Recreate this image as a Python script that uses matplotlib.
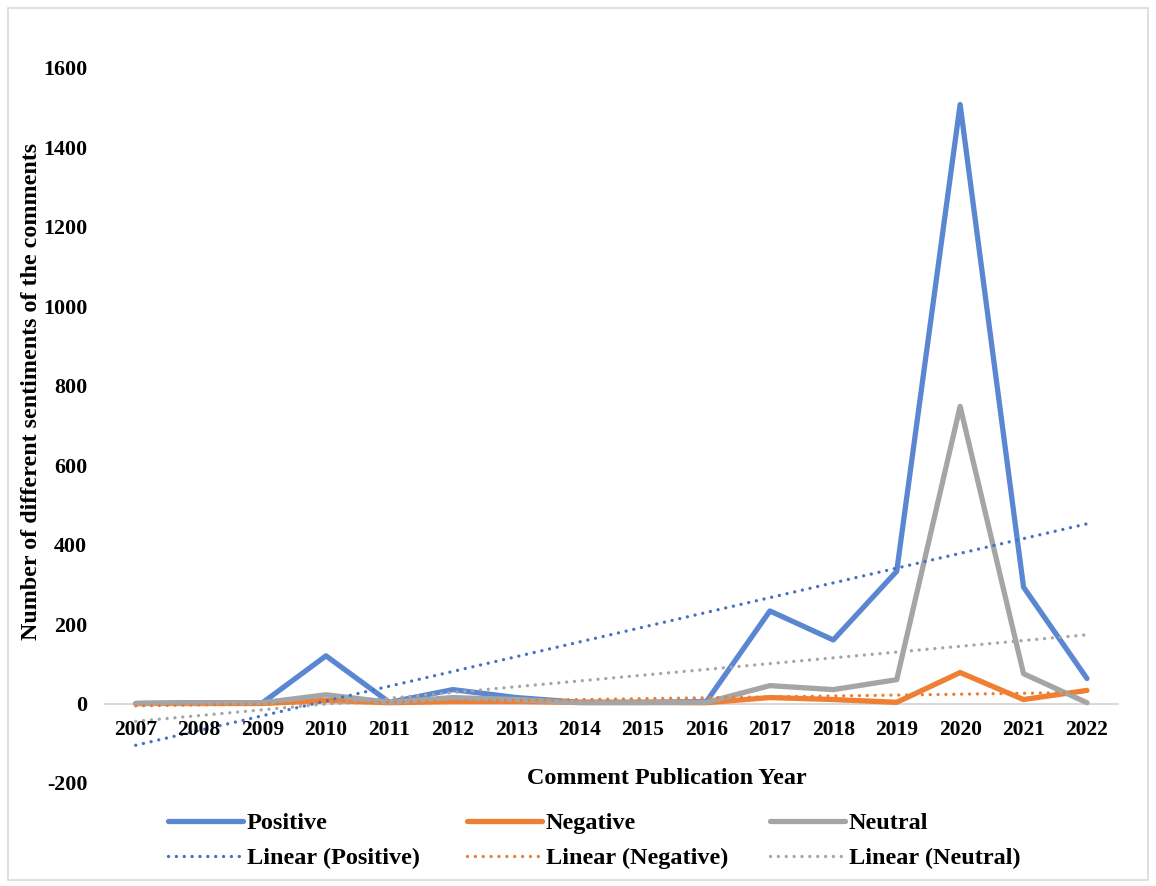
import numpy as np
import matplotlib
matplotlib.use("Agg")
import matplotlib.pyplot as plt
from matplotlib.patches import Rectangle

plt.rcParams['font.family'] = ['Liberation Serif', 'DejaVu Serif']
plt.rcParams['font.weight'] = 'bold'
plt.rcParams['axes.unicode_minus'] = False

years = ['2007', '2008', '2009', '2010', '2011', '2012', '2013', '2014',
         '2015', '2016', '2017', '2018', '2019', '2020', '2021', '2022']
positive = [0, 2, 2, 120, 3, 35, 15, 3, 3, 5, 233, 160, 333, 1508, 293, 63]
negative = [0, 0, 0, 8, 2, 5, 5, 3, 3, 2, 15, 10, 3, 78, 10, 33]
neutral = [0, 2, 2, 22, 3, 15, 10, 2, 2, 3, 45, 35, 60, 748, 75, 2]

series_names = ['Positive', 'Negative', 'Neutral']
line_colors = ['#5B87D2', '#EE7F33', '#A5A5A5']
trend_colors = ['#4472C4', '#ED7D31', '#A5A5A5']

fig = plt.figure(figsize=(11.56, 8.86), dpi=100)
ax = fig.add_axes([0.090, 0.1163, 0.8777, 0.807])

x = np.arange(len(years))
ax.axhline(0, color='#D9D9D9', lw=1.5, zorder=1)

handles = []
trend_handles = []
for name, vals, c in zip(series_names, [positive, negative, neutral], line_colors):
    h, = ax.plot(x, vals, color=c, lw=3.8, solid_joinstyle='round',
                 solid_capstyle='round', zorder=2, label=name)
    handles.append(h)
for name, vals, c in zip(series_names, [positive, negative, neutral], trend_colors):
    k, b = np.polyfit(x, vals, 1)
    t, = ax.plot(x, k * x + b, color=c, lw=2.4, linestyle=(0, (0.01, 2.35)),
                 dash_capstyle='round', zorder=3, label='Linear (%s)' % name)
    trend_handles.append(t)

ax.set_xlim(-0.5, len(years) - 0.5)
ax.set_ylim(-200, 1600)
ax.set_yticks(np.arange(-200, 1601, 200))
ax.tick_params(axis='y', length=0, labelsize=15.8, pad=12)
ax.set_xticks([])
for s in ax.spines.values():
    s.set_visible(False)

for i, yr in enumerate(years):
    ax.annotate(yr, (i, 0), xytext=(0, -26), textcoords='offset pixels',
                ha='center', va='center', fontsize=15.5, fontweight='bold')

fig.text(0.027, 1 - 391 / 886, 'Number of different sentiments of the comments',
         rotation=90, ha='center', va='center', fontsize=17.3, fontweight='bold')
fig.text(667 / 1156, 1 - 778 / 886, 'Comment Publication Year',
         ha='center', va='center', fontsize=17.4, fontweight='bold')

# one small two-row legend per series column
col_x = [168, 467, 770]
for cx, h, t in zip(col_x, handles, trend_handles):
    fig.legend([h, t], [h.get_label(), t.get_label()], loc='upper left',
               bbox_to_anchor=(cx / 1156, 1 - 812 / 886), frameon=False,
               fontsize=17.5, handlelength=3.1, handletextpad=0.15,
               labelspacing=0.55, borderaxespad=0, borderpad=0)

fig.add_artist(Rectangle((8 / 1156, 6 / 886), 1140 / 1156, 872 / 886,
                         transform=fig.transFigure, fill=False,
                         edgecolor='#D9D9D9', lw=1.2))

fig.savefig('out.png', dpi=100, facecolor='white')
